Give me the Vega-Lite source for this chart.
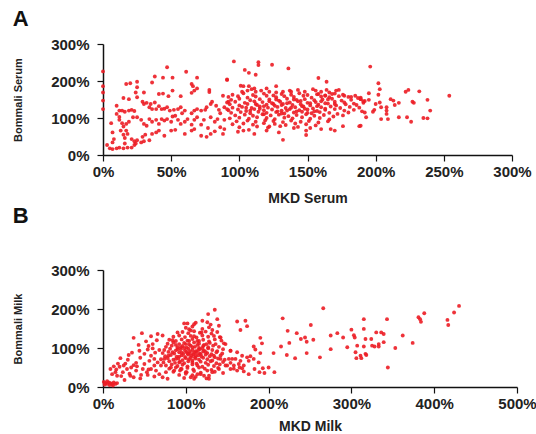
{
  "$schema": "https://vega.github.io/schema/vega-lite/v6.json",
  "padding": {"left": 12, "top": 8, "right": 0, "bottom": 0},
  "background": "white",
  "spacing": 0,
  "config": {
    "view": {"stroke": null},
    "font": "Liberation Sans",
    "axis": {
      "grid": false,
      "domainColor": "#111",
      "domainWidth": 1.5,
      "tickColor": "#111",
      "tickWidth": 1.2,
      "tickSize": 6,
      "labelFlush": false,
      "labelFont": "Liberation Sans",
      "labelFontWeight": "bold",
      "labelFontSize": 15,
      "labelColor": "#222",
      "titleFont": "Liberation Sans",
      "titleFontWeight": "bold",
      "titleColor": "#222"
    },
    "title": {"font": "Liberation Sans", "fontWeight": "bold", "fontSize": 22, "color": "#111", "anchor": "start", "frame": "bounds"}
  },
  "datasets": {
    "a": [
      {"x":0,"y":226},{"x":0,"y":186},{"x":0,"y":169},{"x":0,"y":147},{"x":0,"y":124},
      {"x":47,"y":237},{"x":61,"y":225},{"x":38,"y":212},{"x":44,"y":209},{"x":51,"y":209},{"x":69,"y":209},{"x":36,"y":196},{"x":17,"y":192},{"x":20,"y":194},{"x":25,"y":198},{"x":25,"y":183},{"x":65,"y":192},{"x":66,"y":186},{"x":15,"y":154},{"x":19,"y":151},{"x":24,"y":169},{"x":25,"y":156},{"x":30,"y":169},{"x":41,"y":165},{"x":44,"y":166},{"x":48,"y":159},{"x":51,"y":174},{"x":57,"y":159},{"x":65,"y":168},{"x":69,"y":180},{"x":67,"y":174},{"x":78,"y":176},{"x":78,"y":170},{"x":88,"y":160},{"x":91,"y":203},
      {"x":10,"y":133},{"x":12,"y":120},{"x":14,"y":120},{"x":16,"y":117},{"x":10,"y":111},{"x":12,"y":103},{"x":19,"y":120},{"x":21,"y":122},{"x":23,"y":119},{"x":29,"y":144},{"x":30,"y":138},{"x":32,"y":141},{"x":35,"y":138},{"x":38,"y":142},{"x":34,"y":129},{"x":36,"y":124},{"x":39,"y":124},{"x":41,"y":132},{"x":43,"y":124},{"x":45,"y":125},{"x":47,"y":129},{"x":49,"y":120},{"x":52,"y":122},{"x":55,"y":124},{"x":57,"y":129},{"x":58,"y":113},{"x":60,"y":120},{"x":65,"y":113},{"x":67,"y":120},{"x":69,"y":124},{"x":72,"y":120},{"x":75,"y":122},{"x":76,"y":129},{"x":79,"y":138},{"x":80,"y":144},{"x":83,"y":133},{"x":85,"y":122},{"x":86,"y":113},{"x":89,"y":129},{"x":91,"y":124},{"x":92,"y":144},
      {"x":12,"y":95},{"x":14,"y":86},{"x":15,"y":77},{"x":17,"y":84},{"x":19,"y":90},{"x":22,"y":102},{"x":25,"y":102},{"x":28,"y":95},{"x":30,"y":84},{"x":32,"y":79},{"x":34,"y":97},{"x":36,"y":90},{"x":39,"y":95},{"x":41,"y":84},{"x":43,"y":97},{"x":45,"y":93},{"x":47,"y":97},{"x":50,"y":90},{"x":51,"y":104},{"x":53,"y":106},{"x":55,"y":95},{"x":57,"y":84},{"x":60,"y":90},{"x":62,"y":97},{"x":65,"y":82},{"x":67,"y":95},{"x":69,"y":102},{"x":72,"y":82},{"x":74,"y":95},{"x":77,"y":73},{"x":79,"y":102},{"x":82,"y":90},{"x":84,"y":97},{"x":86,"y":75},{"x":89,"y":95},{"x":6,"y":86},
      {"x":7,"y":61},{"x":8,"y":43},{"x":7,"y":34},{"x":13,"y":66},{"x":15,"y":55},{"x":16,"y":46},{"x":17,"y":66},{"x":18,"y":57},{"x":21,"y":43},{"x":23,"y":37},{"x":25,"y":40},{"x":28,"y":34},{"x":30,"y":37},{"x":34,"y":40},{"x":29,"y":49},{"x":31,"y":55},{"x":36,"y":57},{"x":39,"y":61},{"x":41,"y":66},{"x":45,"y":52},{"x":50,"y":66},{"x":53,"y":68},{"x":60,"y":57},{"x":65,"y":66},{"x":67,"y":70},{"x":72,"y":52},{"x":76,"y":49},{"x":79,"y":57},{"x":82,"y":64},{"x":88,"y":57},{"x":89,"y":70},
      {"x":3,"y":27},{"x":5,"y":18},{"x":7,"y":16},{"x":10,"y":18},{"x":12,"y":20},{"x":15,"y":18},{"x":16,"y":31},{"x":18,"y":20},{"x":21,"y":20},{"x":23,"y":27},{"x":24,"y":31},
      {"x":96,"y":253},{"x":114,"y":251},{"x":114,"y":243},{"x":124,"y":244},{"x":136,"y":234},{"x":104,"y":230},{"x":107,"y":222},{"x":112,"y":217},{"x":91,"y":204},{"x":158,"y":208},{"x":164,"y":198},{"x":101,"y":187},{"x":103,"y":186},{"x":107,"y":186},{"x":111,"y":180},{"x":120,"y":180},{"x":127,"y":186},{"x":132,"y":171},{"x":137,"y":174},{"x":102,"y":171},{"x":106,"y":174},{"x":109,"y":178},{"x":112,"y":171},{"x":116,"y":174},{"x":122,"y":171},{"x":127,"y":169},{"x":138,"y":171},{"x":143,"y":176},{"x":148,"y":171},{"x":154,"y":178},{"x":156,"y":174},{"x":160,"y":171},{"x":164,"y":176},{"x":171,"y":174},{"x":173,"y":176},{"x":166,"y":169},{"x":158,"y":165},{"x":163,"y":160},{"x":168,"y":165},{"x":177,"y":160},{"x":182,"y":157},{"x":185,"y":160},{"x":189,"y":155},{"x":192,"y":146},
      {"x":132,"y":41},{"x":149,"y":54},{"x":140,"y":73},{"x":129,"y":61},{"x":111,"y":57},{"x":99,"y":63},{"x":103,"y":66},{"x":107,"y":68},{"x":120,"y":66},{"x":122,"y":77},{"x":160,"y":70},{"x":167,"y":70},{"x":170,"y":66},{"x":176,"y":78},{"x":188,"y":78},{"x":149,"y":66},
      {"x":95,"y":163},{"x":103,"y":167},{"x":110,"y":162},{"x":118,"y":166},{"x":125,"y":161},{"x":131,"y":165},{"x":138,"y":163},{"x":144,"y":167},{"x":150,"y":162},{"x":157,"y":164},{"x":163,"y":161},{"x":170,"y":166},{"x":176,"y":163},
      {"x":92,"y":157},{"x":99,"y":159},{"x":106,"y":155},{"x":112,"y":158},{"x":120,"y":160},{"x":127,"y":156},{"x":133,"y":159},{"x":140,"y":157},{"x":147,"y":160},{"x":153,"y":155},{"x":160,"y":158},{"x":166,"y":156},{"x":173,"y":159},{"x":180,"y":157},{"x":187,"y":154},
      {"x":94,"y":149},{"x":100,"y":152},{"x":108,"y":148},{"x":115,"y":151},{"x":122,"y":150},{"x":129,"y":147},{"x":135,"y":152},{"x":142,"y":149},{"x":148,"y":151},{"x":155,"y":148},{"x":161,"y":150},{"x":168,"y":152},{"x":175,"y":147},{"x":182,"y":149},{"x":189,"y":151},
      {"x":91,"y":142},{"x":97,"y":144},{"x":104,"y":141},{"x":111,"y":145},{"x":117,"y":143},{"x":124,"y":140},{"x":130,"y":144},{"x":137,"y":142},{"x":143,"y":145},{"x":150,"y":141},{"x":156,"y":143},{"x":163,"y":140},{"x":170,"y":144},{"x":177,"y":142},{"x":184,"y":139},{"x":191,"y":141},
      {"x":93,"y":137},{"x":100,"y":134},{"x":106,"y":138},{"x":113,"y":135},{"x":120,"y":136},{"x":126,"y":133},{"x":132,"y":138},{"x":139,"y":135},{"x":145,"y":137},{"x":152,"y":134},{"x":158,"y":136},{"x":165,"y":139},{"x":171,"y":134},{"x":178,"y":137},{"x":186,"y":135},
      {"x":95,"y":128},{"x":102,"y":130},{"x":109,"y":127},{"x":115,"y":131},{"x":121,"y":128},{"x":128,"y":130},{"x":134,"y":127},{"x":141,"y":129},{"x":147,"y":131},{"x":154,"y":126},{"x":160,"y":129},{"x":167,"y":131},{"x":174,"y":127},{"x":181,"y":130},{"x":188,"y":128},
      {"x":92,"y":121},{"x":99,"y":123},{"x":105,"y":119},{"x":111,"y":124},{"x":118,"y":121},{"x":124,"y":123},{"x":131,"y":120},{"x":137,"y":124},{"x":144,"y":121},{"x":150,"y":123},{"x":157,"y":119},{"x":163,"y":122},{"x":170,"y":124},{"x":177,"y":120},{"x":184,"y":122},{"x":190,"y":118},
      {"x":94,"y":114},{"x":101,"y":116},{"x":108,"y":113},{"x":114,"y":117},{"x":120,"y":114},{"x":127,"y":116},{"x":133,"y":112},{"x":140,"y":115},{"x":146,"y":117},{"x":153,"y":113},{"x":159,"y":116},{"x":166,"y":114},{"x":172,"y":111},{"x":180,"y":115},
      {"x":97,"y":107},{"x":104,"y":109},{"x":110,"y":106},{"x":117,"y":110},{"x":123,"y":107},{"x":129,"y":109},{"x":136,"y":105},{"x":142,"y":108},{"x":149,"y":110},{"x":155,"y":106},{"x":162,"y":108},{"x":169,"y":104},{"x":176,"y":107},
      {"x":93,"y":99},{"x":100,"y":101},{"x":107,"y":98},{"x":113,"y":102},{"x":120,"y":100},{"x":126,"y":97},{"x":133,"y":101},{"x":139,"y":99},{"x":146,"y":102},{"x":152,"y":98},{"x":159,"y":100},{"x":166,"y":96},
      {"x":98,"y":91},{"x":106,"y":93},{"x":112,"y":90},{"x":119,"y":94},{"x":125,"y":92},{"x":132,"y":89},{"x":138,"y":93},{"x":145,"y":90},{"x":151,"y":92},{"x":158,"y":88},{"x":165,"y":91},
      {"x":95,"y":83},{"x":103,"y":85},{"x":110,"y":82},{"x":118,"y":86},{"x":126,"y":84},{"x":134,"y":81},{"x":141,"y":85},{"x":149,"y":83},{"x":156,"y":80},
      {"x":100,"y":75},{"x":113,"y":77},{"x":121,"y":74},{"x":130,"y":78},{"x":143,"y":76},{"x":152,"y":73},
      {"x":115,"y":125},{"x":118,"y":132},{"x":125,"y":138},{"x":128,"y":118},{"x":131,"y":112},{"x":135,"y":140},{"x":138,"y":128},{"x":142,"y":118},{"x":145,"y":146},{"x":148,"y":125},{"x":152,"y":140},{"x":155,"y":118},{"x":135,"y":120},{"x":122,"y":145},{"x":112,"y":138},{"x":108,"y":120},{"x":140,"y":150},{"x":146,"y":132},{"x":150,"y":114},{"x":160,"y":145},{"x":163,"y":125},{"x":165,"y":150},{"x":170,"y":138},{"x":157,"y":132},{"x":127,"y":150},{"x":118,"y":110},{"x":105,"y":128},{"x":131,"y":135},
      {"x":196,"y":239},{"x":202,"y":194},{"x":203,"y":178},{"x":195,"y":167},{"x":202,"y":163},{"x":222,"y":171},{"x":224,"y":176},{"x":232,"y":172},{"x":254,"y":160},{"x":189,"y":151},{"x":191,"y":145},{"x":195,"y":149},{"x":200,"y":138},{"x":203,"y":142},{"x":204,"y":129},{"x":208,"y":129},{"x":208,"y":120},{"x":211,"y":151},{"x":213,"y":147},{"x":214,"y":135},{"x":217,"y":141},{"x":227,"y":144},{"x":228,"y":141},{"x":238,"y":149},{"x":192,"y":115},{"x":193,"y":102},{"x":198,"y":117},{"x":199,"y":122},{"x":208,"y":111},{"x":209,"y":97},{"x":204,"y":97},{"x":217,"y":102},{"x":223,"y":102},{"x":226,"y":90},{"x":235,"y":100},{"x":238,"y":99},{"x":240,"y":120},{"x":189,"y":79}
    ],
    "b": [
      {"x":1,"y":13},{"x":3,"y":10},{"x":5,"y":8},{"x":7,"y":12},{"x":9,"y":10},{"x":11,"y":8},{"x":13,"y":12},{"x":15,"y":8},{"x":17,"y":10},{"x":5,"y":15},{"x":8,"y":5},{"x":2,"y":6},{"x":12,"y":4},
      {"x":135,"y":198},{"x":127,"y":187},{"x":120,"y":170},{"x":126,"y":166},{"x":110,"y":161},{"x":98,"y":163},{"x":102,"y":163},{"x":140,"y":157},{"x":132,"y":146},{"x":138,"y":174},{"x":47,"y":138},{"x":66,"y":136},{"x":58,"y":130},{"x":72,"y":132},{"x":37,"y":126},{"x":142,"y":127},{"x":148,"y":110},{"x":154,"y":93},{"x":21,"y":74},{"x":31,"y":82},{"x":44,"y":93},{"x":54,"y":96},{"x":60,"y":99},{"x":9,"y":46},{"x":13,"y":53},{"x":15,"y":38},{"x":11,"y":33},{"x":17,"y":29},
      {"x":25,"y":55},{"x":29,"y":46},{"x":34,"y":50},{"x":37,"y":56},{"x":41,"y":53},{"x":48,"y":46},{"x":50,"y":59},{"x":56,"y":67},{"x":62,"y":72},{"x":66,"y":63},{"x":70,"y":55},{"x":74,"y":72},{"x":79,"y":80},{"x":84,"y":89},{"x":90,"y":97},{"x":94,"y":102},{"x":88,"y":72},{"x":92,"y":63},{"x":82,"y":50},{"x":76,"y":38},{"x":68,"y":33},{"x":62,"y":27},{"x":54,"y":31},{"x":46,"y":31},{"x":37,"y":25},{"x":33,"y":29},{"x":64,"y":42},{"x":58,"y":46},{"x":72,"y":25},{"x":78,"y":21},{"x":86,"y":42},{"x":94,"y":46},{"x":100,"y":38},{"x":106,"y":25},{"x":110,"y":21},{"x":114,"y":33},{"x":122,"y":29},{"x":128,"y":21},{"x":132,"y":38},{"x":140,"y":46},{"x":148,"y":55},{"x":154,"y":46},{"x":152,"y":72},{"x":142,"y":72},{"x":134,"y":80},
      {"x":266,"y":202},{"x":162,"y":168},{"x":172,"y":170},{"x":174,"y":156},{"x":166,"y":146},{"x":217,"y":176},{"x":223,"y":144},{"x":234,"y":138},{"x":190,"y":126},{"x":192,"y":112},{"x":239,"y":123},{"x":244,"y":127},{"x":246,"y":116},{"x":254,"y":121},{"x":251,"y":159},{"x":275,"y":132},{"x":283,"y":138},{"x":290,"y":127},{"x":275,"y":97},{"x":262,"y":76},{"x":246,"y":87},{"x":232,"y":74},{"x":225,"y":113},{"x":215,"y":104},{"x":222,"y":82},{"x":206,"y":87},
      {"x":154,"y":93},{"x":162,"y":89},{"x":168,"y":80},{"x":174,"y":76},{"x":178,"y":79},{"x":182,"y":104},{"x":184,"y":96},{"x":190,"y":87},{"x":176,"y":67},{"x":182,"y":72},{"x":188,"y":63},{"x":193,"y":48},{"x":200,"y":50},{"x":207,"y":38},{"x":189,"y":38},{"x":183,"y":46},{"x":195,"y":36},{"x":176,"y":33},{"x":170,"y":55},{"x":164,"y":59},{"x":158,"y":55},{"x":154,"y":62},{"x":156,"y":72},{"x":160,"y":72},{"x":166,"y":67},{"x":168,"y":48},{"x":162,"y":42},
      {"x":300,"y":147},{"x":303,"y":133},{"x":304,"y":127},{"x":295,"y":102},{"x":307,"y":106},{"x":305,"y":89},{"x":306,"y":74},{"x":311,"y":80},{"x":312,"y":74},{"x":317,"y":85},{"x":318,"y":82},
      {"x":430,"y":208},{"x":424,"y":191},{"x":388,"y":189},{"x":381,"y":179},{"x":383,"y":174},{"x":384,"y":167},{"x":416,"y":172},{"x":417,"y":159},{"x":343,"y":174},{"x":315,"y":174},{"x":315,"y":149},{"x":317,"y":123},{"x":315,"y":104},{"x":330,"y":140},{"x":336,"y":140},{"x":339,"y":136},{"x":324,"y":123},{"x":333,"y":110},{"x":339,"y":115},{"x":325,"y":106},{"x":328,"y":104},{"x":333,"y":104},{"x":362,"y":132},{"x":374,"y":113},{"x":353,"y":100},{"x":344,"y":50},
      {"x":100,"y":152},{"x":104,"y":148},{"x":108,"y":155},{"x":120,"y":149},{"x":128,"y":153},
      {"x":96,"y":141},{"x":103,"y":138},{"x":110,"y":143},{"x":117,"y":139},{"x":124,"y":142},{"x":131,"y":137},{"x":138,"y":141},
      {"x":85,"y":129},{"x":92,"y":132},{"x":99,"y":128},{"x":106,"y":131},{"x":113,"y":127},{"x":120,"y":132},{"x":127,"y":129},{"x":134,"y":131},{"x":141,"y":128},
      {"x":80,"y":121},{"x":88,"y":118},{"x":95,"y":122},{"x":102,"y":119},{"x":108,"y":123},{"x":114,"y":118},{"x":121,"y":121},{"x":128,"y":117},{"x":135,"y":122},{"x":143,"y":119},
      {"x":78,"y":111},{"x":85,"y":114},{"x":92,"y":110},{"x":98,"y":113},{"x":104,"y":109},{"x":110,"y":114},{"x":116,"y":111},{"x":122,"y":108},{"x":129,"y":113},{"x":136,"y":110},{"x":146,"y":112},
      {"x":76,"y":103},{"x":83,"y":106},{"x":90,"y":102},{"x":96,"y":105},{"x":101,"y":101},{"x":106,"y":106},{"x":111,"y":103},{"x":116,"y":100},{"x":121,"y":105},{"x":127,"y":102},{"x":133,"y":106},{"x":140,"y":103},
      {"x":74,"y":95},{"x":81,"y":98},{"x":88,"y":94},{"x":94,"y":97},{"x":99,"y":93},{"x":103,"y":98},{"x":108,"y":95},{"x":112,"y":92},{"x":117,"y":97},{"x":122,"y":94},{"x":127,"y":99},{"x":132,"y":95},{"x":138,"y":92},{"x":145,"y":97},
      {"x":72,"y":87},{"x":79,"y":90},{"x":86,"y":86},{"x":92,"y":89},{"x":97,"y":85},{"x":101,"y":90},{"x":105,"y":87},{"x":109,"y":84},{"x":113,"y":89},{"x":117,"y":86},{"x":121,"y":91},{"x":126,"y":87},{"x":131,"y":84},{"x":137,"y":89},{"x":144,"y":86},
      {"x":75,"y":79},{"x":82,"y":82},{"x":89,"y":78},{"x":95,"y":81},{"x":99,"y":77},{"x":103,"y":83},{"x":107,"y":80},{"x":111,"y":76},{"x":115,"y":81},{"x":119,"y":78},{"x":124,"y":83},{"x":129,"y":79},{"x":135,"y":76},{"x":142,"y":81},
      {"x":70,"y":71},{"x":78,"y":74},{"x":85,"y":70},{"x":91,"y":73},{"x":96,"y":69},{"x":100,"y":74},{"x":104,"y":71},{"x":108,"y":68},{"x":112,"y":73},{"x":116,"y":70},{"x":121,"y":75},{"x":126,"y":71},{"x":132,"y":68},{"x":139,"y":73},{"x":147,"y":70},
      {"x":73,"y":63},{"x":80,"y":66},{"x":87,"y":62},{"x":93,"y":65},{"x":98,"y":61},{"x":103,"y":66},{"x":108,"y":63},{"x":113,"y":60},{"x":118,"y":65},{"x":124,"y":62},{"x":130,"y":66},{"x":137,"y":61},{"x":145,"y":64},
      {"x":76,"y":55},{"x":83,"y":58},{"x":90,"y":54},{"x":96,"y":57},{"x":102,"y":53},{"x":108,"y":58},{"x":114,"y":55},{"x":120,"y":52},{"x":127,"y":57},{"x":134,"y":54},{"x":141,"y":58},{"x":150,"y":55},
      {"x":80,"y":47},{"x":88,"y":50},{"x":95,"y":46},{"x":102,"y":49},{"x":109,"y":45},{"x":116,"y":50},{"x":123,"y":47},{"x":131,"y":44},{"x":139,"y":49},{"x":158,"y":47},{"x":165,"y":50},
      {"x":85,"y":39},{"x":93,"y":42},{"x":101,"y":38},{"x":110,"y":41},{"x":118,"y":37},{"x":126,"y":42},{"x":135,"y":39},{"x":145,"y":36},{"x":170,"y":40},
      {"x":92,"y":31},{"x":100,"y":34},{"x":108,"y":30},{"x":118,"y":33},{"x":128,"y":29},
      {"x":98,"y":23},{"x":112,"y":26},{"x":125,"y":22},
      {"x":105,"y":92},{"x":110,"y":88},{"x":115,"y":95},{"x":108,"y":102},{"x":118,"y":84},{"x":112,"y":80},{"x":102,"y":86},{"x":120,"y":100},{"x":98,"y":100},{"x":106,"y":76},{"x":114,"y":108},{"x":124,"y":90},{"x":100,"y":110},{"x":116,"y":118},{"x":110,"y":130},{"x":95,"y":88},{"x":125,"y":110},{"x":92,"y":78},{"x":104,"y":118},{"x":119,"y":140},{"x":130,"y":160},{"x":112,"y":165},{"x":106,"y":145},{"x":90,"y":140},{"x":84,"y":120},{"x":88,"y":108},{"x":60,"y":110},{"x":65,"y":120},{"x":55,"y":105},{"x":50,"y":85},{"x":45,"y":75},{"x":40,"y":62},{"x":35,"y":88},{"x":30,"y":70},{"x":27,"y":60},{"x":43,"y":108},{"x":52,"y":117},{"x":63,"y":88},{"x":68,"y":95},{"x":58,"y":80},{"x":20,"y":52},{"x":24,"y":38},{"x":18,"y":60},{"x":32,"y":34},{"x":40,"y":42},{"x":55,"y":45},{"x":62,"y":55},{"x":16,"y":45},{"x":22,"y":28},{"x":26,"y":18},{"x":45,"y":22},{"x":53,"y":38}
    ]
  },
  "vconcat": [
    {
      "title": {"text": "A", "offset": 6},
      "width": 409,
      "height": 111,
      "data": {"name": "a"},
      "mark": {"type": "point", "filled": true, "shape": "circle", "size": 15, "color": "#ec1c24", "opacity": 0.9},
      "encoding": {
        "x": {"field": "x", "type": "quantitative", "scale": {"domain": [0, 300], "nice": false},
              "axis": {"values": [0, 50, 100, 150, 200, 250, 300], "labelExpr": "datum.value + '%'", "title": "MKD Serum", "titleFontSize": 14, "titlePadding": 12, "labelPadding": 3}},
        "y": {"field": "y", "type": "quantitative", "scale": {"domain": [0, 300], "nice": false},
              "axis": {"values": [0, 100, 200, 300], "labelExpr": "datum.value + '%'", "title": "Bommali Serum", "titleFontSize": 11, "titlePadding": 27, "labelPadding": 8}}
      }
    },
    {
      "title": {"text": "B", "offset": 35},
      "width": 414,
      "height": 117,
      "data": {"name": "b"},
      "mark": {"type": "point", "filled": true, "shape": "circle", "size": 15, "color": "#ec1c24", "opacity": 0.9},
      "encoding": {
        "x": {"field": "x", "type": "quantitative", "scale": {"domain": [0, 500], "nice": false},
              "axis": {"values": [0, 100, 200, 300, 400, 500], "labelExpr": "datum.value + '%'", "title": "MKD Milk", "titleFontSize": 14, "titlePadding": 8, "labelPadding": 3}},
        "y": {"field": "y", "type": "quantitative", "scale": {"domain": [0, 300], "nice": false},
              "axis": {"values": [0, 100, 200, 300], "labelExpr": "datum.value + '%'", "title": "Bommali Milk", "titleFontSize": 11, "titlePadding": 27, "labelPadding": 8}}
      }
    }
  ]
}
